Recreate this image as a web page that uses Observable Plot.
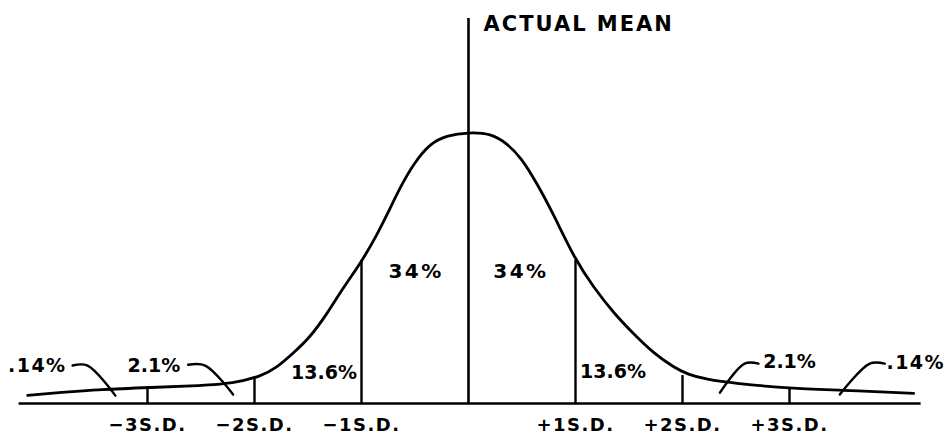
<!DOCTYPE html>
<html>
<head>
<meta charset="utf-8">
<script src="https://cdn.jsdelivr.net/npm/d3@7"></script>
<script src="https://cdn.jsdelivr.net/npm/@observablehq/plot@0.6"></script>
<style>
  html, body { margin: 0; padding: 0; background: #fff; }
  #chart svg { display: block; }
</style>
</head>
<body>
<div id="chart"></div>
<script>
// Standard-deviation tick positions and their labels
const sdTicks = [-3, -2, -1, 1, 2, 3];
const sdLabels = ["−3S.D.", "−2S.D.", "−1S.D.", "+1S.D.", "+2S.D.", "+3S.D."];

// Hand-drawn curve (x in S.D. units, y relative to the peak)
const curveX = [-4.12, -3.81, -3.44, -2.97, -2.50, -2.20, -1.94, -1.79, -1.64, -1.48, -1.32, -1.17, -0.99, -0.85, -0.76, -0.64, -0.51, -0.36, -0.20, 0,
                 0.21, 0.36, 0.49, 0.64, 0.79, 1.00, 1.17, 1.36, 1.54, 1.73, 1.92, 2.05, 2.22, 2.48, 3.04, 3.56, 4.16];
const curveY = [0.030, 0.041, 0.052, 0.059, 0.066, 0.074, 0.100, 0.133, 0.185, 0.244, 0.332, 0.428, 0.528, 0.627, 0.697, 0.797, 0.886, 0.959, 0.989, 1.0,
                0.996, 0.959, 0.908, 0.812, 0.701, 0.528, 0.428, 0.332, 0.258, 0.185, 0.133, 0.107, 0.089, 0.074, 0.055, 0.048, 0.037];

// Heights of the vertical S.D. lines (where they meet the curve)
const sdLineHeights = [0.059, 0.096, 0.528, 0.528, 0.103, 0.055];
const meanLineTop = 1.42;
const baselineExtent = [-4.2, 4.23];

// Percentage annotations
const pctLabels = ["34%", "34%", "13.6%", "13.6%", "2.1%", ".14%", "2.1%", ".14%"];
const pctX = [-0.49, 0.49, -1.35, 1.35, -2.94, -4.03, 3.00, 4.18];
const pctY = [0.487, 0.487, 0.111, 0.118, 0.140, 0.140, 0.155, 0.151];

// Leader lines from tail labels to the tail areas
const leaders = [
  {x: [-3.70, -3.56, -3.30], y: [0.140, 0.140, 0.029]},
  {x: [-2.62, -2.46, -2.20], y: [0.143, 0.140, 0.033]},
  {x: [2.35, 2.58, 2.71], y: [0.040, 0.147, 0.147]},
  {x: [3.47, 3.75, 3.89], y: [0.033, 0.147, 0.147]}
];

const meanTitle = "ACTUAL MEAN";
const meanTitleX = 0.14;
const meanTitleY = 1.40;

// Build tables for the library
const curve = curveX.map((x, i) => ({x, y: curveY[i]}));
const sdLines = sdTicks.map((x, i) => ({x, h: sdLineHeights[i]}));
const pct = pctLabels.map((t, i) => ({t, x: pctX[i], y: pctY[i]}));
const leaderPts = leaders.flatMap((l, k) => l.x.map((x, i) => ({k, x, y: l.y[i]})));

const font = "DejaVu Sans";
const chart = Plot.plot({
  width: 946,
  height: 439,
  marginLeft: 0,
  marginRight: 0,
  marginTop: 18,
  marginBottom: 36,
  x: {domain: [-468 / 107, 478 / 107]},
  y: {domain: [0, meanLineTop], axis: null},
  style: {fontFamily: font, fontWeight: "bold", color: "#000", background: "#fff"},
  marks: [
    Plot.ruleY([0], {x1: baselineExtent[0], x2: baselineExtent[1], stroke: "#000", strokeWidth: 2.6}),
    Plot.ruleX(sdLines, {x: "x", y1: 0, y2: "h", stroke: "#000", strokeWidth: 2.4}),
    Plot.ruleX([0], {y1: 0, y2: meanLineTop, stroke: "#000", strokeWidth: 2.6}),
    Plot.line(curve, {x: "x", y: "y", curve: "basis", stroke: "#000", strokeWidth: 2.8}),
    Plot.line(leaderPts, {x: "x", y: "y", z: "k", curve: "catmull-rom", stroke: "#000", strokeWidth: 2.4}),
    Plot.text(pct, {x: "x", y: "y", text: "t", fontSize: 19, fontWeight: "bold", fontFamily: font, fill: "#000", textAnchor: "middle", lineAnchor: "middle"}),
    Plot.text([meanTitle], {x: meanTitleX, y: meanTitleY, text: d => d, fontSize: 21, fontWeight: "bold", fontFamily: font, fill: "#000", textAnchor: "start", lineAnchor: "middle"}),
    Plot.axisX(sdTicks, {tickFormat: d => sdLabels[sdTicks.indexOf(d)], tickSize: 0, tickPadding: 15, fontSize: 18, fontWeight: "bold", fontFamily: font, label: null})
  ]
});

// Widen the hand-lettered look with letter spacing and size
const spacing = {"34%": 2.5, "ACTUAL MEAN": 2, ".14%": 1.5};
d3.select(chart).selectAll("text").each(function () {
  const t = this.textContent;
  if (spacing[t] != null) this.setAttribute("letter-spacing", spacing[t]);
  else if (sdLabels.includes(t)) this.setAttribute("letter-spacing", 1.5);
  if (t === "34%") this.setAttribute("font-size", 20);
});

document.getElementById("chart").appendChild(chart);
</script>
</body>
</html>
